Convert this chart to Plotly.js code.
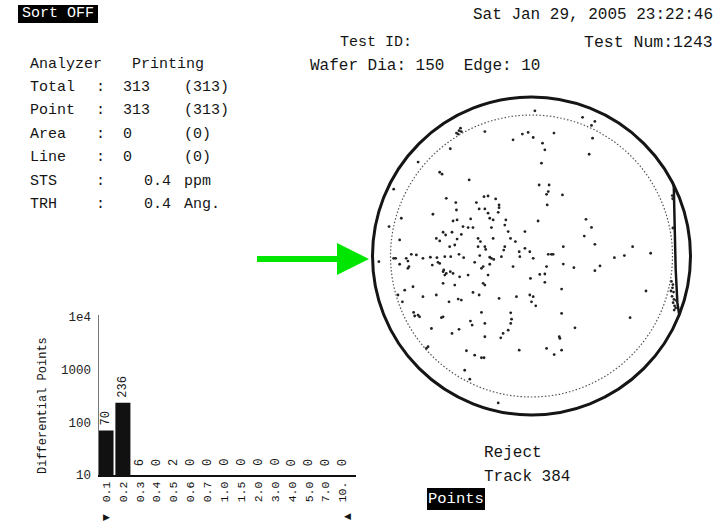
<!DOCTYPE html>
<html>
<head>
<meta charset="utf-8">
<script src="https://cdn.plot.ly/plotly-3.0.1.min.js"></script>
<style>
  html,body{margin:0;padding:0;background:#fff;}
  #chart{width:726px;height:528px;}
</style>
</head>
<body>
<div id="chart"></div>
<script>
// ---------------- DATA ----------------
const sizeLabels = ['0.1','0.2','0.3','0.4','0.5','0.6','0.7','1.0','1.5','2.0','3.0','4.0','5.0','7.0','10.'];
const diffCounts = [70,236,6,0,2,0,0,0,0,0,0,0,0,0,0];
const yTickVals  = [10,100,1000,10000];
const yTickText  = ['10','100','1000','1e4'];

const infoLabels = ['Total','Point','Area','Line','STS','TRH'];
const infoValues = ['313','313','0','0','0.4','0.4'];
const infoExtra  = ['(313)','(313)','(0)','(0)','ppm','Ang.'];

const waferDia = 150;
const edgeExcl = 8.5;

// defect positions (mm from wafer centre)
const defectX = [
 -33.5,-34.2,-35.4,-34.6,-33.1,-22.0,-8.7,-4.3,-1.6,-38.3,-53.5,-43.3,-42.2,-29.4,-65.0,-40.2,-35.7,-26.0,-22.4,-20.5,-16.9,-15.3,
 1.6,24.1,29.9,28.3,28.8,10.6,0.8,5.2,6.3,27.2,4.7,3.6,8.3,7.9,7.1,14.6,7.4,
 -46.5,-35.4,-35.1,-37.0,-24.7,-22.0,-20.5,-15.3,-15.7,-28.7,-19.7,-18.1,-12.1,-12.6,-32.3,-29.9,-27.6,-18.9,-41.7,-40.5,-37.5,-33.1,
 -35.1,-44.9,-43.3,-25.2,-24.1,-18.1,-11.0,-9.9,-3.1,-7.6,-38.6,-36.2,-25.2,-22.0,-21.6,-12.6,-13.1,-62.2,-67.2,-61.4,
 -14.2,-5.8,-3.1,-0.8,-5.5,-40.9,-44.6,-38.1,-34.2,-32.0,-24.4,-19.7,-18.9,-17.8,-56.7,-54.3,-51.2,-47.7,-59.1,-58.3,-57.8,-58.3,
 -65.0,-64.1,-62.2,-72.0,-44.1,-46.8,-43.3,-26.8,-22.8,-23.6,-19.7,-8.7,-41.4,-41.7,-40.2,-40.9,-38.3,-37.0,-29.9,-20.5,-33.9,-0.5,
 -22.8,-22.0,-36.2,-41.7,-55.9,-59.8,-44.9,-38.9,-34.6,-33.1,-27.6,-24.7,-15.3,-0.8,0.0,-7.1,-60.9,-51.2,-63.0,-55.6,-53.5,-23.6,-9.8,
 3.1,25.7,28.3,24.9,29.9,15.0,47.7,56.2,39.1,43.8,0.8,7.9,9.4,10.2,7.1,15.0,20.0,32.3,29.9,3.9,6.3,6.3,14.2,54.0,0.8,2.0,14.2,
 -55.1,-52.8,-42.5,-41.7,-28.8,-28.0,-22.0,-9.4,-9.8,-47.2,-37.5,-34.2,-22.0,-14.5,-13.4,-11.0,-48.8,-49.6,-30.7,-26.8,-23.6,-22.4,-5.8,-31.5,-29.1,-15.7,
 46.5,20.5,13.1,13.4,7.1,10.7,14.2,
 66.0,66.5,67.0,66.3,67.2,66.8,67.5,68.0,67.3,68.3,65.8,66.7,66.4,66.6,66.7
];
const defectY = [
 60.3,59.1,58.0,57.5,58.7,58.7,54.8,57.5,58.3,50.6,44.3,39.5,38.6,35.9,31.5,27.2,25.2,25.2,28.0,28.3,26.9,24.1,
 68.5,65.4,63.5,61.6,55.6,58.0,55.9,53.2,50.1,48.0,43.8,33.5,33.5,30.4,29.1,28.8,24.1,
 19.7,21.7,17.0,16.5,22.2,22.2,20.2,22.8,20.6,17.5,17.8,17.0,17.0,14.6,13.9,13.4,13.4,13.4,11.2,9.9,11.2,10.2,
 8.0,8.3,7.1,8.3,6.8,8.3,11.5,8.3,11.5,6.8,4.4,5.2,4.4,4.4,3.1,4.4,2.8,7.6,13.9,17.8,
 -0.3,2.0,3.6,2.0,-0.3,-0.3,-0.8,-0.3,0.8,-0.8,0.2,-0.6,-1.1,-1.6,0.8,0.5,-1.1,-0.6,-1.1,-2.4,-5.0,-5.8,
 -1.1,-1.1,-3.9,-2.7,-3.0,-4.3,-3.5,-3.0,-5.0,-5.8,-3.9,-5.0,-6.6,-7.4,-8.2,-9.0,-7.4,-8.2,-9.0,-9.0,-9.8,-10.6,
 -12.9,-13.7,-13.7,-12.9,-14.5,-16.1,-18.4,-21.6,-20.3,-20.8,-17.2,-18.4,-20.0,-18.4,-21.6,-19.2,-21.6,-19.2,-18.4,-26.6,-27.9,-26.6,-26.8,
 16.5,17.3,13.5,9.4,5.5,4.4,4.4,1.3,-0.8,0.2,-1.1,0.8,0.8,0.8,-5.0,-3.8,-5.5,-4.7,-6.9,-8.7,-8.5,-12.4,-15.6,-16.5,-19.2,-23.5,-27.1,
 -28.3,-28.7,-29.1,-28.7,-30.7,-32.6,-31.8,-29.8,-31.8,-34.2,-36.5,-34.6,-38.1,-38.6,-36.5,-35.0,-42.8,-43.6,-44.7,-46.8,-48.0,-48.0,-44.4,-53.9,-58.1,-69.3,
 -29.1,-33.9,-38.1,-38.9,-43.6,-46.5,-44.4,
 -12.0,-15.0,-17.0,-19.0,-20.5,-22.0,-23.5,-24.5,-25.5,-21.0,-16.5,-13.5,28.5,27.0,13.2
];
// scratch / flat line at right edge (mm)
const flatX = [67.1,67.5,68.0,68.8,69.7];
const flatY = [33.5,12.0,-6.0,-22.0,-27.8];

// ---------------- LAYOUT HELPERS ----------------
const W = 726, H = 528;
const X = p => p / W;
const Y = p => 1 - p / H;
const F = 'Liberation Mono, DejaVu Sans Mono, monospace';
const INK = '#151515';

function label(text, px, py, size, xanchor, color) {
  return {text: text, x: X(px), y: Y(py), xref: 'paper', yref: 'paper',
          xanchor: xanchor || 'left', yanchor: 'middle', showarrow: false,
          font: {family: F, size: size, color: color || INK}};
}

const annotations = [];
// header
annotations.push(label('Sat Jan 29, 2005 23:22:46', 715, 15, 16, 'right'));
annotations.push(label('Test ID:', 338, 42, 15, 'left'));
annotations.push(label('Test Num:1243', 715, 42, 16.5, 'right'));
annotations.push(label('Wafer Dia: ' + waferDia + '  Edge: 10', 308, 66, 16, 'left'));
annotations.push(label('Sort OFF', 58, 14, 15, 'center', '#fff'));

// info block
annotations.push(label('Analyzer', 28, 64, 15, 'left'));
annotations.push(label('Printing', 130, 64, 15, 'left'));
const rowY = [88, 111, 135, 157, 181, 204];
infoLabels.forEach((t, i) => {
  annotations.push(label(t, 28, rowY[i], 15, 'left'));
  annotations.push(label(':', 100, rowY[i], 15, 'center'));
  const isDec = infoValues[i].indexOf('.') >= 0;
  annotations.push(label(infoValues[i], isDec ? 142 : 121, rowY[i], 15, 'left'));
  annotations.push(label(infoExtra[i], 182, rowY[i], 15, 'left'));
});

// bottom right texts
annotations.push(label('Reject', 482, 453, 16, 'left'));
annotations.push(label('Track 384', 482, 477, 16, 'left'));
annotations.push(label('Points', 456, 499, 15.5, 'center', '#fff'));

// bar value labels
diffCounts.forEach((v, i) => {
  annotations.push({
    x: i, y: Math.log10(Math.max(v, 10)), xref: 'x', yref: 'y',
    text: String(v), textangle: -90, showarrow: false,
    xanchor: 'center', yanchor: 'bottom', yshift: v >= 10 ? 3 : 7,
    font: {family: F, size: 12, color: INK}
  });
});
// y title
annotations.push({text: 'Differential Points', x: X(43), y: Y(406), xref: 'paper', yref: 'paper',
  textangle: -90, showarrow: false, xanchor: 'center', yanchor: 'middle',
  font: {family: F, size: 12, color: INK}});
// range markers
annotations.push({text: '\u25B6', x: X(106), y: Y(517), xref: 'paper', yref: 'paper', showarrow: false,
  xanchor: 'center', yanchor: 'middle', font: {family: 'DejaVu Sans', size: 9, color: INK}});
annotations.push({text: '\u25C0', x: X(347), y: Y(516), xref: 'paper', yref: 'paper', showarrow: false,
  xanchor: 'center', yanchor: 'middle', font: {family: 'DejaVu Sans', size: 9, color: INK}});

const R = waferDia / 2;
const Ri = R - edgeExcl;
const shapes = [
  // black boxes
  {type: 'rect', xref: 'paper', yref: 'paper', x0: X(18), x1: X(98), y0: Y(23), y1: Y(5),
   fillcolor: '#000', line: {width: 0}},
  {type: 'rect', xref: 'paper', yref: 'paper', x0: X(427), x1: X(485), y0: Y(510), y1: Y(488),
   fillcolor: '#000', line: {width: 0}},
  // wafer outline
  {type: 'circle', xref: 'x2', yref: 'y2', x0: -R, x1: R, y0: -R, y1: R,
   line: {color: INK, width: 3}},
  {type: 'circle', xref: 'x2', yref: 'y2', x0: -Ri, x1: Ri, y0: -Ri, y1: Ri,
   line: {color: '#555', width: 1.2, dash: '1.5px,2px'}},
  // green arrow
  {type: 'rect', xref: 'paper', yref: 'paper', x0: X(257), x1: X(340), y0: Y(262), y1: Y(256),
   fillcolor: '#00e600', line: {width: 0}, layer: 'above'},
  {type: 'path', xref: 'paper', yref: 'paper',
   path: 'M ' + X(337) + ' ' + Y(243) + ' L ' + X(369) + ' ' + Y(259) + ' L ' + X(337) + ' ' + Y(275) + ' Z',
   fillcolor: '#00e600', line: {width: 0}, layer: 'above'}
];

const traces = [
  {type: 'bar', x: sizeLabels, y: diffCounts, xaxis: 'x', yaxis: 'y',
   marker: {color: '#111', line: {width: 0}}, hoverinfo: 'skip'},
  {type: 'scatter', mode: 'lines', x: flatX, y: flatY, xaxis: 'x2', yaxis: 'y2',
   line: {color: INK, width: 2.5}, hoverinfo: 'skip'},
  {type: 'scatter', mode: 'markers', x: defectX, y: defectY, xaxis: 'x2', yaxis: 'y2',
   marker: {size: 2.8, color: '#222'}, hoverinfo: 'skip'}
];

const layout = {
  width: W, height: H,
  margin: {l: 0, r: 0, t: 0, b: 0},
  paper_bgcolor: '#fff', plot_bgcolor: 'rgba(0,0,0,0)',
  showlegend: false, bargap: 0.11,
  xaxis: {type: 'category', domain: [X(99), X(356)], range: [-0.414, 14.79], anchor: 'y',
          showline: true, linecolor: '#111', linewidth: 2, ticks: '', tickangle: -90,
          tickfont: {family: F, size: 11.5, color: '#111'}, showgrid: false, zeroline: false, fixedrange: true},
  yaxis: {type: 'log', domain: [Y(475), Y(315)], range: [1, 4.04], anchor: 'x',
          showline: true, linecolor: '#777', linewidth: 1.5, ticks: '',
          tickvals: yTickVals, ticktext: yTickText, ticklabelstandoff: 4,
          tickfont: {family: F, size: 12.5, color: '#222'}, showgrid: false, zeroline: false, fixedrange: true},
  xaxis2: {domain: [X(361.9), X(701.1)], range: [-80, 80], anchor: 'y2', visible: false, fixedrange: true},
  yaxis2: {domain: [Y(425.6), Y(86.4)], range: [-80, 80], anchor: 'x2', visible: false, fixedrange: true},
  shapes: shapes,
  annotations: annotations
};

Plotly.newPlot('chart', traces, layout, {staticPlot: true, displayModeBar: false});
</script>
</body>
</html>
